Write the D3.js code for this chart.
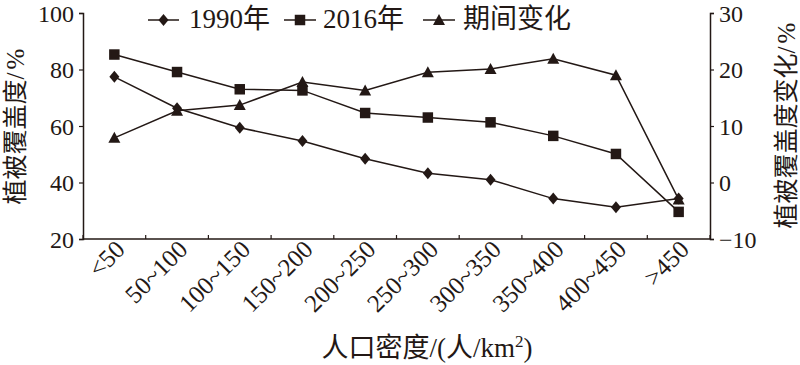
<!DOCTYPE html>
<html><head><meta charset="utf-8">
<script src="https://cdn.jsdelivr.net/npm/d3@7/dist/d3.min.js"></script>
<style>
html,body{margin:0;padding:0;background:#fff;}
svg text{font-family:"Liberation Serif","Noto Sans CJK SC",serif;fill:#231815;}
</style></head>
<body>
<svg id="c" width="800" height="365"></svg>
<script>
const categories = ["<50","50~100","100~150","150~200","200~250","250~300","300~350","350~400","400~450",">450"];
const cover1990 = [77.4,66.3,59.4,54.7,48.4,43.3,41.0,34.3,31.2,34.3];
const cover2016 = [85.3,79.1,73.0,72.6,64.6,63.0,61.3,56.5,50.1,29.6];
const change = [7.9,12.7,13.7,17.8,16.3,19.5,20.1,21.9,19.0,-3.0];
const leftTicks = [20,40,60,80,100];
const rightTicks = [-10,0,10,20,30];
const seriesNames = ["1990年","2016年","期间变化"];

const svg = d3.select("#c");
const col = "#231815";
const L = 83, R = 710, T = 13, B = 239;

const x = d3.scaleBand().domain(categories).range([L, R]);
const yL = d3.scaleLinear().domain([20,100]).range([B, T]);
const yR = d3.scaleLinear().domain([-10,30]).range([B, T]);

// axes
const gL = svg.append("g").attr("transform",`translate(${L},0)`)
  .call(d3.axisLeft(yL).tickValues(leftTicks).tickSize(4).tickPadding(5));
const gR = svg.append("g").attr("transform",`translate(${R},0)`)
  .call(d3.axisRight(yR).tickValues(rightTicks).tickSize(4).tickPadding(5)
    .tickFormat(d => d < 0 ? "\u2212" + Math.abs(d) : d));
const gB = svg.append("g").attr("transform",`translate(0,${B})`);
gB.append("line").attr("x1",L).attr("x2",R).attr("stroke",col).attr("stroke-width",1.5);
const bounds = categories.map(c => x(c)).concat([R]);
gB.selectAll("line.tk").data(bounds).join("line").attr("class","tk")
  .attr("x1",d=>d).attr("x2",d=>d).attr("y1",0).attr("y2",-4)
  .attr("stroke",col).attr("stroke-width",1.2);
gB.selectAll("text").data(categories).join("text")
  .attr("transform", d => `translate(${x(d)+x.bandwidth()/2+12},${12}) rotate(-45)`)
  .attr("text-anchor","end").attr("font-size",25).text(d=>d);

[gL,gR].forEach(g=>{
  g.select(".domain").attr("stroke",col).attr("stroke-width",1.5);
  g.selectAll(".tick line").attr("stroke",col).attr("stroke-width",1.2);
  g.selectAll(".tick text").attr("font-size",24).attr("fill",col).attr("dy","0.34em")
    .style("font-family","'Liberation Serif',serif");
});

// lines
const cx = d => x(d)+x.bandwidth()/2;
const lineL = d3.line().x((d,i)=>cx(categories[i])).y(d=>yL(d));
const lineR = d3.line().x((d,i)=>cx(categories[i])).y(d=>yR(d));
svg.append("path").attr("d",lineL(cover1990)).attr("fill","none").attr("stroke",col).attr("stroke-width",1.5);
svg.append("path").attr("d",lineL(cover2016)).attr("fill","none").attr("stroke",col).attr("stroke-width",1.5);
svg.append("path").attr("d",lineR(change)).attr("fill","none").attr("stroke",col).attr("stroke-width",1.5);

const sym = {
  square: d3.symbol().type(d3.symbolSquare).size(110)
};
function diamondPath(){ return "M0,-6L5,0L0,6L-5,0Z"; }
function trianglePath(){ return "M0,-6L6,5L-6,5Z"; }

svg.append("g").selectAll("path").data(change).join("path")
  .attr("transform",(d,i)=>`translate(${cx(categories[i])},${yR(d)})`)
  .attr("d",trianglePath()).attr("fill",col);
svg.append("g").selectAll("path").data(cover2016).join("path")
  .attr("transform",(d,i)=>`translate(${cx(categories[i])},${yL(d)})`)
  .attr("d",sym.square()).attr("fill",col);
svg.append("g").selectAll("path").data(cover1990).join("path")
  .attr("transform",(d,i)=>`translate(${cx(categories[i])},${yL(d)})`)
  .attr("d",diamondPath()).attr("fill",col);

// legend
const leg = [
  {x1:148,x2:179,tx:189,name:seriesNames[0],m:diamondPath()},
  {x1:284,x2:316,tx:323,name:seriesNames[1],m:sym.square()},
  {x1:423,x2:455,tx:463,name:seriesNames[2],m:trianglePath()}
];
const ly = 20;
leg.forEach(l=>{
  svg.append("line").attr("x1",l.x1).attr("x2",l.x2).attr("y1",ly).attr("y2",ly).attr("stroke",col).attr("stroke-width",1.5);
  svg.append("path").attr("transform",`translate(${(l.x1+l.x2)/2},${ly})`).attr("d",l.m).attr("fill",col);
  svg.append("text").attr("x",l.tx).attr("y",ly+8).attr("font-size",27).text(l.name);
});

// axis titles
function yTitle(tx, ty, main){
  const t = svg.append("text").attr("transform",`translate(${tx},${ty}) rotate(-90)`)
    .attr("text-anchor","middle").attr("font-size",25);
  t.append("tspan").text(main);
  t.append("tspan").attr("letter-spacing",3).text("/%");
}
yTitle(24, 125, "植被覆盖度");
yTitle(795, 124, "植被覆盖度变化");
const xt = svg.append("text").attr("x",427).attr("y",357).attr("text-anchor","middle").attr("font-size",27);
xt.append("tspan").text("人口密度/(人/km");
xt.append("tspan").attr("font-size",17).attr("dy",-10).text("2");
xt.append("tspan").attr("dy",10).text(")");
</script>
</body></html>
